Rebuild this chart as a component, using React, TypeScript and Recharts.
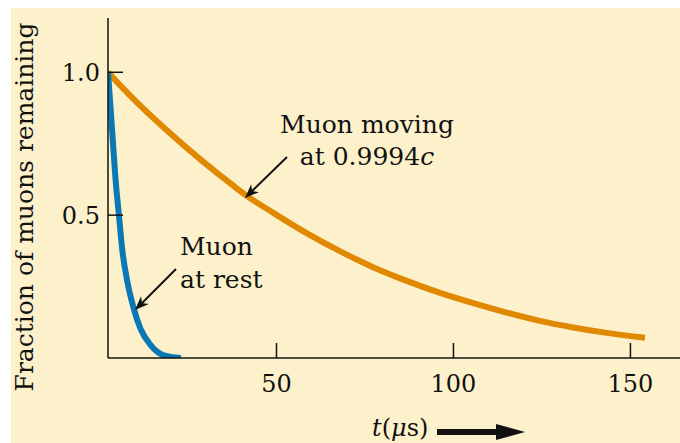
import { LineChart, Line, XAxis, YAxis } from 'recharts';

// values (t in microseconds, fraction remaining)
const restTimes = [2.4, 3.6, 4.6, 5.5, 6.4, 7.9, 9.7, 11.6, 14.5, 18.2, 23.0];
const restFractions = [1.0, 0.79, 0.615, 0.498, 0.382, 0.265, 0.172, 0.102, 0.044, 0.009, 0.0];

const movingTimes = [2.4, 9.5, 19.0, 28.4, 37.8, 41.1, 49.1, 58.5, 67.9, 77.3, 86.8, 96.2, 105.6, 115.0, 124.4, 133.8, 143.3, 154.1];
const movingFractions = [1.0, 0.908, 0.797, 0.696, 0.603, 0.572, 0.508, 0.437, 0.374, 0.318, 0.27, 0.228, 0.192, 0.159, 0.13, 0.107, 0.088, 0.071];

const timeTicks = [50, 100, 150];
const fractionTicks = [0.5, 1.0];

const restData = restTimes.map((t, i) => ({ t, fraction: restFractions[i] }));
const movingData = movingTimes.map((t, i) => ({ t, fraction: movingFractions[i] }));

const FONT = '"DejaVu Serif", serif';
const CREAM = '#fdf1cb';
const INK = '#111';
const ORANGE = '#e08800';
const BLUE = '#0a78b4';

const XTick = ({ x, y, payload }: any) => (
  <text x={x} y={y} dy={34} textAnchor="middle" fontFamily={FONT} fontSize={24} fill={INK}>
    {payload.value}
  </text>
);

const YTick = ({ x, y, payload }: any) => (
  <text x={x} y={y} dy={9} textAnchor="end" fontFamily={FONT} fontSize={24} fill={INK}>
    {Number(payload.value).toFixed(1)}
  </text>
);

// thin pointer arrow with a filled head at (x2, y2)
function Arrow({ x1, y1, x2, y2 }: { x1: number; y1: number; x2: number; y2: number }) {
  const len = Math.hypot(x2 - x1, y2 - y1);
  const ux = (x2 - x1) / len;
  const uy = (y2 - y1) / len;
  const head = 14;
  const half = 5.5;
  const bx = x2 - ux * head;
  const by = y2 - uy * head;
  const nx = x2 - ux * (head - 4);
  const ny = y2 - uy * (head - 4);
  const pts = `${x2},${y2} ${bx - uy * half},${by + ux * half} ${nx},${ny} ${bx + uy * half},${by - ux * half}`;
  return (
    <g>
      <line x1={x1} y1={y1} x2={nx} y2={ny} stroke={INK} strokeWidth={2} />
      <polygon points={pts} fill={INK} />
    </g>
  );
}

export default function App() {
  return (
    <div style={{ position: 'fixed', left: 0, top: 0, width: 680, height: 443, background: '#fff', overflow: 'hidden' }}>
      <div style={{ position: 'absolute', left: 11, top: 8, width: 669, height: 435, background: CREAM }} />
      <div style={{ position: 'absolute', left: 0, top: 0 }}>
        <LineChart width={680} height={443} margin={{ top: 18, right: 0, bottom: 84, left: 107 }}>
          <XAxis
            type="number"
            dataKey="t"
            domain={[2.4, 164]}
            ticks={timeTicks}
            allowDataOverflow
            height={1}
            tickSize={-15}
            tickMargin={15}
            tick={<XTick />}
            axisLine={{ stroke: INK, strokeWidth: 1.5 }}
            tickLine={{ stroke: INK, strokeWidth: 1.5 }}
          />
          <YAxis
            type="number"
            dataKey="fraction"
            domain={[0, 1.19]}
            ticks={fractionTicks}
            allowDataOverflow
            width={1}
            tickSize={-15}
            tickMargin={23}
            tick={<YTick />}
            axisLine={{ stroke: INK, strokeWidth: 1.5 }}
            tickLine={{ stroke: INK, strokeWidth: 1.5 }}
          />
          <Line
            data={movingData}
            dataKey="fraction"
            type="monotone"
            stroke={ORANGE}
            strokeWidth={6}
            dot={false}
            isAnimationActive={false}
          />
          <Line
            data={restData}
            dataKey="fraction"
            type="monotone"
            stroke={BLUE}
            strokeWidth={6}
            dot={false}
            isAnimationActive={false}
          />
        </LineChart>
      </div>
      <svg width={680} height={443} style={{ position: 'absolute', left: 0, top: 0, pointerEvents: 'none' }}>
        <text
          x={33}
          y={207}
          transform="rotate(-90 33 207)"
          textAnchor="middle"
          fontFamily={FONT}
          fontSize={25}
          fill={INK}
        >
          Fraction of muons remaining
        </text>

        <text x={367} y={133} textAnchor="middle" fontFamily={FONT} fontSize={25} fill={INK}>
          Muon moving
        </text>
        <text x={367} y={165} textAnchor="middle" fontFamily={FONT} fontSize={25} fill={INK}>
          at 0.9994<tspan fontStyle="italic">c</tspan>
        </text>
        <Arrow x1={287} y1={157} x2={245} y2={198} />

        <text x={180} y={255} fontFamily={FONT} fontSize={25} fill={INK}>
          Muon
        </text>
        <text x={180} y={288} fontFamily={FONT} fontSize={25} fill={INK}>
          at rest
        </text>
        <Arrow x1={176} y1={269} x2={135} y2={310} />

        <text x={372} y={436} fontFamily={FONT} fontSize={24} fill={INK}>
          <tspan fontStyle="italic">t</tspan>(<tspan fontStyle="italic">μ</tspan>s)
        </text>
        <rect x={437} y={429} width={63} height={6} fill={INK} />
        <polygon points="496,424 525,432 496,440" fill={INK} />
      </svg>
    </div>
  );
}
